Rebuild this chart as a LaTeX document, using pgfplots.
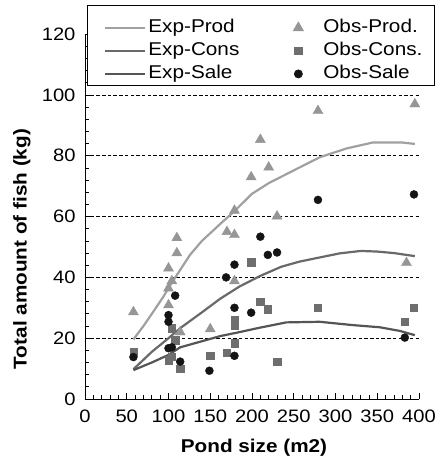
\documentclass[border=0pt]{standalone}
\usepackage{fontspec}
\setmainfont{Liberation Sans}
\usepackage{graphicx}
\usepackage{pgfplots}
\pgfplotsset{compat=1.18}
\definecolor{cprod}{RGB}{160,160,160}
\definecolor{cprodm}{RGB}{150,150,150}
\definecolor{ccons}{RGB}{105,105,105}
\definecolor{cconsm}{RGB}{110,110,110}
\definecolor{csale}{RGB}{85,85,85}
\definecolor{csalem}{RGB}{20,20,20}
\newcommand{\W}[1]{\scalebox{1.12}[1]{#1}}
\pgfplotsset{
  lineleg/.style={legend image code/.code={\path[draw=none,fill=none] (-6pt,0pt) -- (43pt,#1); \draw[##1, line width=2.2pt] (0pt,0pt) -- (40pt,0pt);}},
  markleg/.style={legend image code/.code={\path[draw=none,fill=none] (-59pt,0pt) -- (25pt,0pt); \draw[##1] plot coordinates {(0pt,0pt)};}},
}
\begin{document}
\begin{tikzpicture}
\begin{axis}[
  scale only axis, width=334pt, height=364.8pt,
  xmin=0, xmax=400, ymin=0, ymax=120,
  axis x line*=bottom, axis y line*=left,
  axis line style={line width=0.9pt},
  xtick={0,50,...,400}, ytick={0,20,...,120},
  minor x tick num=4, minor y tick num=4,
  tick align=inside,
  major tick length=6pt, minor tick length=4pt,
  tick style={line width=0.8pt, black},
  /pgf/number format/assume math mode=true,
  tick label style={font=\fontsize{18}{20}\selectfont},
  xticklabel={\W{\axisdefaultticklabel}},
  yticklabel={\W{\axisdefaultticklabel}},
  yticklabel style={xshift=-6pt},
  xticklabel style={yshift=-7pt},
  ymajorgrids, major grid style={black, line width=0.7pt, dash pattern=on 3.5pt off 2.2pt},
  xlabel={\W{\bfseries Pond size (m2)}},
  xlabel style={font=\fontsize{18.5}{20}\selectfont, at={(axis description cs:0.506,-0.148)}, anchor=base},
  ylabel={\W{\bfseries Total amount of fish (kg)}},
  ylabel style={font=\fontsize{18.5}{20}\selectfont, at={(axis description cs:-0.1886,0.411)}, anchor=center, rotate=0},
  legend columns=2,
  legend cell align=left,
  legend style={at={(0.006,1.080)}, anchor=north west, draw=black, line width=0.8pt,
    fill=white, font=\fontsize{18.5}{20}\selectfont,
    nodes={inner sep=0pt, text height=13.5pt, text depth=3.9pt},
    inner xsep=12pt, inner ysep=3pt, row sep=5.6pt, column sep=0pt,
  },
]
\addplot[cprod, line width=2.2pt, forget plot] coordinates {
(58,19.6) (70,24) (80,28) (94,33.7) (100,36.5) (110,40.8) (126,47.5) (140,52)
(162,57.6) (179,61.8) (200,67.5) (220,71) (245,74.5) (281,79.5) (313,82.4)
(345,84.4) (379,84.4) (395,83.9)};
\addplot[ccons, line width=2.2pt, forget plot] coordinates {
(58,9.8) (80,15.5) (100,20) (114,23.3) (140,28.5) (162,33) (185,37) (210,40.5)
(235,43.5) (257,45.2) (280,46.5) (305,47.9) (330,48.7) (350,48.5) (370,48) (395,47)};
\addplot[csale, line width=2.2pt, forget plot] coordinates {
(58,9.5) (80,12) (100,14.5) (114,17) (140,19) (162,20.7) (185,22) (210,23.5)
(241,25.2) (281,25.4) (321,24.3) (353,23.6) (377,22.4) (395,21)};
\addplot[only marks, mark=triangle*, mark size=5.8pt, color=cprodm, forget plot] coordinates {
(58,28.6) (100,43) (104,38.8) (100,36.4) (100,30.9) (110,53) (110,48) (114,22)
(150,23) (170,55) (179,54) (179,62) (179,38.8) (199,73) (210,85.3) (220,76.2)
(230,60.1) (279,94.8) (385,44.8) (395,97)};
\addplot[only marks, mark=square*, mark size=3.7pt, color=cconsm, forget plot] coordinates {
(58,15.6) (100,12.8) (104,14) (104,23.3) (108,19.3) (114,10) (150,14.2) (170,15.3)
(179,18.3) (179,24.3) (179,26) (199,45) (210,32) (219,29.5) (230,12.3) (279,30)
(383,25.5) (394,30)};
\addplot[only marks, mark=*, mark size=4pt, color=csalem, forget plot] coordinates {
(58,13.8) (100,27.6) (100,25.4) (100,16.7) (104,17) (108,34) (114,12.3) (149,9.3)
(169,40) (179,44.2) (179,30) (179,14.2) (199,28.4) (210,53.4) (219,47.4) (230,48.2)
(279,65.5) (383,20.2) (394,67.3)};
\addlegendimage{cprod, lineleg=19.5pt}
\addlegendentry{\W{Exp-Prod}}
\addlegendimage{only marks, mark=triangle*, mark size=5.8pt, color=cprodm, markleg}
\addlegendentry{\W{Obs-Prod.}}
\addlegendimage{ccons, lineleg=0pt}
\addlegendentry{\W{Exp-Cons}}
\addlegendimage{only marks, mark=square*, mark size=3.7pt, color=cconsm, markleg}
\addlegendentry{\W{Obs-Cons.}}
\addlegendimage{csale, lineleg=0pt}
\addlegendentry{\W{Exp-Sale}}
\addlegendimage{only marks, mark=*, mark size=4pt, color=csalem, markleg}
\addlegendentry{\W{Obs-Sale}}
\end{axis}
\pgfresetboundingbox
\path[shift={(current axis.south west)}] (-85pt,-61pt) rectangle (351pt,399pt);
\end{tikzpicture}
\end{document}
